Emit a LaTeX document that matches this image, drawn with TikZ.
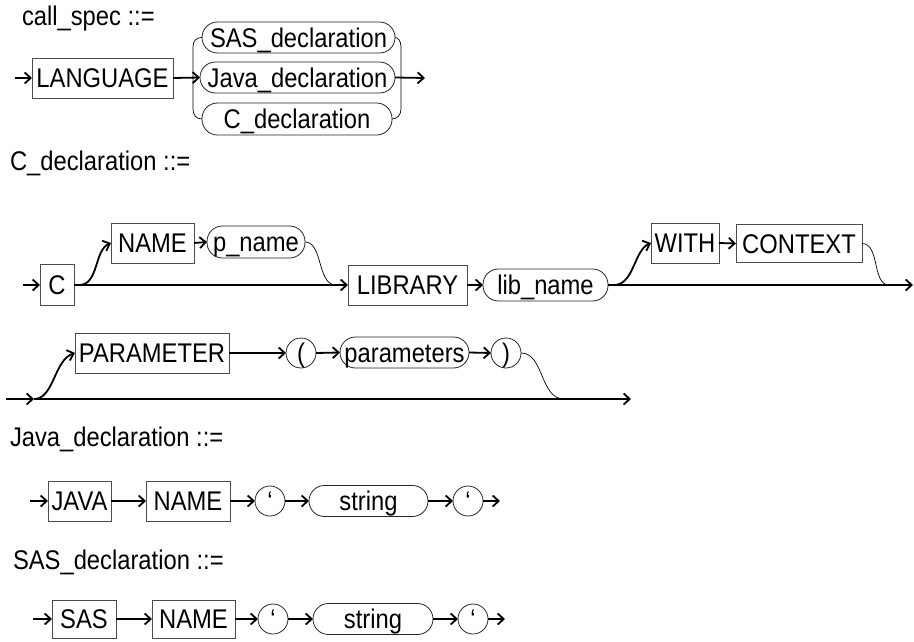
\documentclass[tikz,border=0pt]{standalone}
\usepackage{fontspec}
\setmainfont{Liberation Sans}[FakeStretch=0.88]
\usetikzlibrary{arrows.meta}
\begin{document}
\begin{tikzpicture}[x=1pt,y=-1pt,
  font=\fontsize{27}{31}\selectfont,
  every node/.style={inner sep=0pt, outer sep=0pt},
  box/.style={text height=19.2pt, text depth=0pt},
  kw/.style={box, draw=black!70, line width=0.8pt, rectangle, minimum height=40pt},
  nt/.style={box, draw=black!85, line width=0.8pt, rectangle, rounded corners=15.5pt, minimum height=31pt},
  lit/.style={box, draw=black!85, line width=0.8pt, circle, minimum size=30pt},
  flow/.style={line width=1.8pt, -{Straight Barb[length=6pt,width=11pt]}},
  back/.style={line width=0.7pt},
  lbl/.style={anchor=base west}
]
\useasboundingbox (0,0) rectangle (914,642);

% ---------- call_spec ----------
\node[lbl] (h1) at (22,26) {call\_spec ::=};
\node[kw, minimum width=141pt] (lang) at (102.5,78) {LANGUAGE};
\node[nt, minimum width=193pt] (sasd) at (298.5,37.5) {SAS\_declaration};
\node[nt, minimum width=195pt] (javad) at (297.5,77.5) {Java\_declaration};
\node[nt, minimum width=190pt, minimum height=32pt] (cd) at (297,119) {C\_declaration};
\coordinate (s1) at (15,78);
\coordinate (e1) at (425,78);
\draw[flow] (s1) -- (lang.west);
\draw[flow] (lang.east) -- (javad.west);
\draw[flow] (javad.east) -- (e1);
\draw[back] (sasd.west) .. controls (196,37.5) and (193,41) .. (193,47) -- (193,109) .. controls (193,115) and (196,119) .. (cd.west);
\draw[back] (sasd.east) .. controls (398,37.5) and (401,41) .. (401,47) -- (401,109) .. controls (401,115) and (397,119) .. (cd.east);

% ---------- C_declaration ----------
\node[lbl] (h2) at (10,170) {C\_declaration ::=};
\node[kw, minimum width=34pt, minimum height=41pt] (c) at (57,285) {C};
\node[kw, minimum width=83pt] (name1) at (152.5,243) {NAME};
\node[nt, minimum width=98pt, minimum height=32pt] (pname) at (256,242) {p\_name};
\node[kw, minimum width=119pt] (lib) at (407.5,285) {LIBRARY};
\node[nt, minimum width=125pt, minimum height=32pt] (libname) at (545.5,285) {lib\_name};
\node[kw, minimum width=68pt] (with) at (685,243) {WITH};
\node[kw, minimum width=126pt, minimum height=38pt] (ctx) at (799,243.5) {CONTEXT};
\coordinate (s2) at (23,285);
\coordinate (b2a) at (79,285);
\coordinate (j2a) at (336,285);
\coordinate (b2b) at (614,285);
\coordinate (j2b) at (889,285);
\coordinate (e2) at (913,285);
\draw[flow] (s2) -- (c.west);
\draw[flow] (c.east) -- (lib.west);
\draw[flow] (b2a) .. controls (99,285) and (94,250) .. (name1.west);
\draw[flow] (name1.east) -- (pname.west);
\draw[back] (pname.east) .. controls (323,242) and (317,285) .. (j2a);
\draw[flow] (lib.east) -- (libname.west);
\draw[flow] (libname.east) -- (e2);
\draw[flow] (b2b) .. controls (634,285) and (634,250) .. (with.west);
\draw[flow] (with.east) -- (ctx.west);
\draw[back] (ctx.east) .. controls (880,243.5) and (872,285) .. (j2b);

% ---------- continuation ----------
\node[kw, minimum width=154pt] (param) at (152,353) {PARAMETER};
\node[lit] (lp) at (301,353) {(};
\node[nt, minimum width=129pt] (params) at (404.5,352.5) {parameters};
\node[lit] (rp) at (506,353) {)};
\coordinate (s3) at (6,399);
\coordinate (b3) at (34,399);
\coordinate (j3) at (564,399);
\coordinate (e3) at (631,399);
\draw[flow] (s3) -- (b3);
\draw[flow] (b3) -- (e3);
\draw[flow] (b3) .. controls (54,399) and (54,360) .. (param.west);
\draw[flow] (param.east) -- (lp.west);
\draw[flow] (lp.east) -- (params.west);
\draw[flow] (params.east) -- (rp.west);
\draw[back] (rp.east) .. controls (544,353) and (540,399) .. (j3);

% ---------- Java_declaration ----------
\node[lbl] (h4) at (10,446) {Java\_declaration ::=};
\node[kw, minimum width=63pt] (java) at (79.5,501) {JAVA};
\node[kw, minimum width=84pt] (name2) at (188,501) {NAME};
\node[lit] (q1) at (270,501) {‘};
\node[nt, minimum width=119pt] (str1) at (368.5,501) {string};
\node[lit] (q2) at (468,501) {‘};
\coordinate (s4) at (30,501);
\coordinate (e4) at (500,501);
\draw[flow] (s4) -- (java.west);
\draw[flow] (java.east) -- (name2.west);
\draw[flow] (name2.east) -- (q1.west);
\draw[flow] (q1.east) -- (str1.west);
\draw[flow] (str1.east) -- (q2.west);
\draw[flow] (q2.east) -- (e4);

% ---------- SAS_declaration ----------
\node[lbl] (h5) at (13,569) {SAS\_declaration ::=};
\node[kw, minimum width=64pt, minimum height=38pt] (sas) at (84,619) {SAS};
\node[kw, minimum width=83pt, minimum height=38pt] (name3) at (193.5,619) {NAME};
\node[lit] (q3) at (273,619) {‘};
\node[nt, minimum width=120pt] (str2) at (373,619) {string};
\node[lit] (q4) at (473,619) {‘};
\coordinate (s5) at (33,619);
\coordinate (e5) at (505,619);
\draw[flow] (s5) -- (sas.west);
\draw[flow] (sas.east) -- (name3.west);
\draw[flow] (name3.east) -- (q3.west);
\draw[flow] (q3.east) -- (str2.west);
\draw[flow] (str2.east) -- (q4.west);
\draw[flow] (q4.east) -- (e5);
\end{tikzpicture}
\end{document}
